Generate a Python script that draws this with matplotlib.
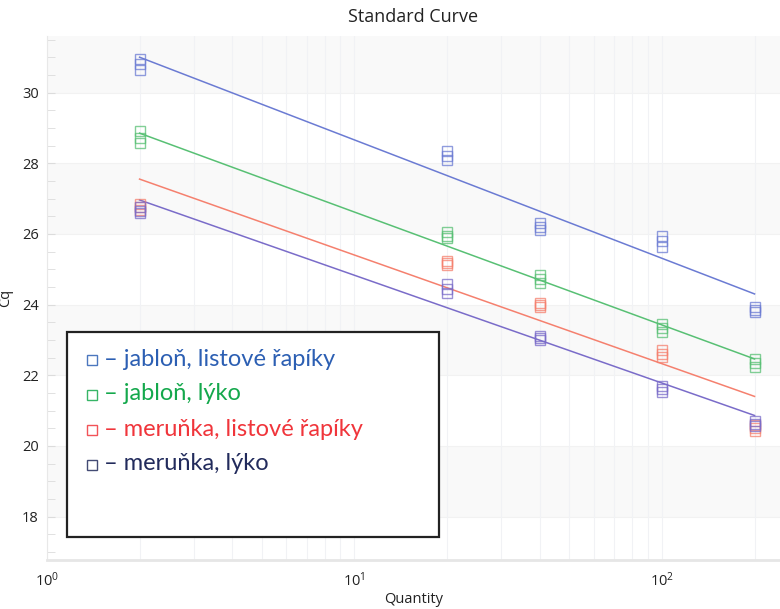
import matplotlib
matplotlib.use("Agg")
import matplotlib.pyplot as plt
from matplotlib.patches import Rectangle
from matplotlib.lines import Line2D
from matplotlib.ticker import MultipleLocator, LogLocator, NullFormatter

# ---- data ----
quantity = [2, 20, 40, 100, 200]
series_names = ["jabloň, listové řapíky", "jabloň, lýko",
                "meruňka, listové řapíky", "meruňka, lýko"]
# replicate Cq values per quantity
cq_jablon_list = [[30.96, 30.80, 30.63], [28.34, 28.20, 28.08], [26.32, 26.20, 26.10],
                  [25.94, 25.80, 25.62], [23.94, 23.85, 23.78]]
cq_jablon_lyko = [[28.91, 28.72, 28.56], [26.06, 25.95, 25.89], [24.83, 24.72, 24.61],
                  [23.45, 23.33, 23.23], [22.45, 22.35, 22.24]]
cq_merunka_list = [[26.84, 26.75, 26.68], [25.23, 25.18, 25.13], [24.03, 23.98, 23.93],
                   [22.71, 22.60, 22.51], [20.60, 20.50, 20.43]]
cq_merunka_lyko = [[26.75, 26.65, 26.58], [24.57, 24.45, 24.33], [23.11, 23.05, 23.00],
                   [21.70, 21.60, 21.53], [20.70, 20.62, 20.55]]
# fitted standard-curve values at the lowest and highest quantity
fit_low = [31.00, 28.85, 27.55, 26.96]
fit_high = [24.30, 22.46, 21.40, 20.86]

series_cq = [cq_jablon_list, cq_jablon_lyko, cq_merunka_list, cq_merunka_lyko]
line_colors = ["#6b7bd3", "#58c074", "#f5806e", "#7a6cc9"]
legend_colors = ["#2c5fb3", "#14a84c", "#f0353b", "#222b5c"]

W, H = 780, 609
fig = plt.figure(figsize=(W / 100, H / 100), dpi=100)
ax = fig.add_axes([47 / W, 1 - 560 / H, (W - 47) / W, (560 - 36) / H])

ax.set_xscale("log")
ax.set_xlim(1, 242)
ax.set_ylim(16.77, 31.6)

# background bands
for lo, hi in [(18, 20), (22, 24), (26, 28), (30, 31.6)]:
    ax.axhspan(lo, hi, color="#f9f9f9", zorder=0, lw=0)
for yb in [18, 20, 22, 24, 26, 28, 30]:
    ax.axhline(yb, color="#f2f2f2", lw=0.8, zorder=0.4)

# grid
ax.xaxis.set_minor_locator(LogLocator(base=10, subs=range(2, 10)))
ax.xaxis.set_minor_formatter(NullFormatter())
ax.grid(True, which="both", axis="x", color="#f1f2f5", lw=0.8, zorder=0.5)
ax.yaxis.set_major_locator(MultipleLocator(2))
ax.yaxis.set_minor_locator(MultipleLocator(0.5))

for cq, lc, lo, hi in zip(series_cq, line_colors, fit_low, fit_high):
    ax.plot([quantity[0], quantity[-1]], [lo, hi], color=lc, lw=1.1, zorder=2)
    xs, ys = [], []
    for q, reps in zip(quantity, cq):
        for v in reps:
            xs.append(q)
            ys.append(v)
    ax.plot(xs, ys, ls="none", marker="s", markersize=7.8, fillstyle="none",
            markeredgecolor=lc, markeredgewidth=1.0, alpha=0.75, zorder=3)

for s in ["top", "right"]:
    ax.spines[s].set_visible(False)
ax.spines["left"].set_color("#e8e8e8")
ax.spines["bottom"].set_color("#e6e6e6")
ax.spines["bottom"].set_linewidth(2.0)
ax.tick_params(axis="y", which="both", direction="in", color="#dcdcdc", length=6,
               labelsize=10.5, labelcolor="#222222", pad=6)
ax.tick_params(axis="x", which="both", length=0, labelsize=10.5, labelcolor="#222222", pad=8)
for lab in ax.get_yticklabels() + ax.get_xticklabels():
    lab.set_fontfamily("Open Sans")

ax.set_title("Standard Curve", fontsize=13, family="Open Sans", color="#222222", pad=10)
ax.set_xlabel("Quantity", fontsize=10.5, family="Open Sans", color="#222222", labelpad=2)
ax.set_ylabel("Cq", fontsize=10.5, family="Open Sans", color="#222222", labelpad=6)

# custom legend box
fig.add_artist(Rectangle((67 / W, 1 - 537 / H), (439 - 67) / W, (537 - 332) / H,
                         transform=fig.transFigure, facecolor="white",
                         edgecolor="#222222", lw=1.6, zorder=5))
row_y = [359, 394, 429, 464]
for name, col, lc, yy in zip(series_names, legend_colors, line_colors, row_y):
    fig.add_artist(Line2D([92 / W], [1 - (yy + 1) / H], transform=fig.transFigure,
                          marker="s", markersize=7.5, fillstyle="none", ls="none",
                          markeredgecolor=col, markeredgewidth=1.0, alpha=0.85, zorder=6))
    fig.text(104 / W, 1 - yy / H, "– " + name, color=col, fontsize=17,
             family=["Lato", "DejaVu Sans"], va="center", ha="left", zorder=6)

fig.savefig("out.png", dpi=100)
